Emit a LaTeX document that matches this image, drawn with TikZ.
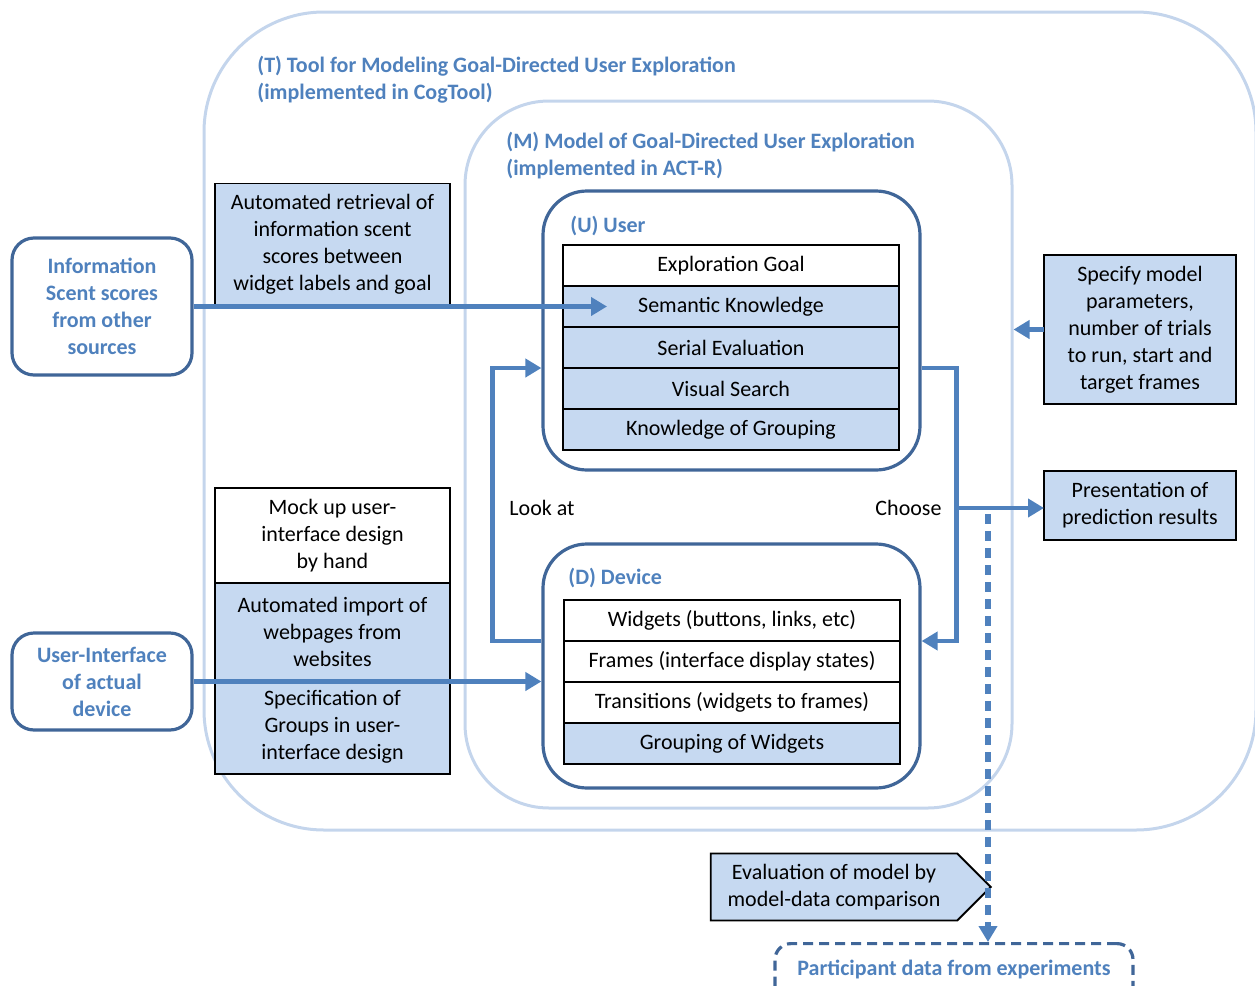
\documentclass[tikz,border=0pt]{standalone}
\usepackage{fontspec}
\setmainfont{Carlito}
\usetikzlibrary{arrows.meta,positioning,shapes.symbols}
\definecolor{paleline}{RGB}{196,213,236}
\definecolor{boxfill}{RGB}{198,217,241}
\definecolor{darkline}{RGB}{64,102,152}
\definecolor{flowblue}{RGB}{79,129,189}

\begin{document}
\begin{tikzpicture}[x=0.5pt,y=-0.5pt,font=\fontsize{11}{13.5}\selectfont,
	region/.style={draw=paleline, line width=1.5pt, inner sep=0pt},
	agent/.style={draw=darkline, line width=1.6pt, rounded corners=22pt, minimum width=188.5pt, inner sep=0pt},
	cell/.style={draw=black, line width=0.9pt, fill=white, minimum width=168pt, minimum height=20.5pt, inner sep=0pt, outer sep=0pt},
	shaded/.style={cell, fill=boxfill},
	sidebox/.style={draw=black, line width=0.9pt, fill=boxfill, align=center, minimum width=117.5pt, inner sep=0pt, outer sep=0pt},
	source/.style={draw=darkline, line width=1.6pt, rounded corners=11pt, text=flowblue, font=\fontsize{11}{13.5}\selectfont\bfseries, align=center, minimum width=90pt, inner sep=0pt},
	title/.style={text=flowblue, font=\fontsize{11}{13.5}\selectfont\bfseries, align=left, inner sep=0pt},
	flow/.style={draw=flowblue, line width=2.4pt, -{Triangle[length=8pt,width=9pt]}}]
	\useasboundingbox (0,0) rectangle (1255,986);
	% nested scopes of the tool and the model
	\node[region, rounded corners=60pt, minimum width=526pt, minimum height=409pt] (tool) at (730,421) {};
	\node[title, anchor=west] (tooltitle) at (257,79.5) {(T) Tool for Modeling Goal-Directed User Exploration\\(implemented in CogTool)};
	\node[region, rounded corners=42pt, minimum width=273.5pt, minimum height=353.5pt] (model) at (738.5,454.5) {};
	\node[title, anchor=west] (modeltitle) at (506,155.5) {(M) Model of Goal-Directed User Exploration\\(implemented in ACT-R)};
	% user
	\node[agent, minimum height=139.5pt] (user) at (731.5,330.5) {};
	\node[title, anchor=west] (usertitle) at (570,226) {(U) User};
	\node[cell] (goal) at (731,265.5) {Exploration Goal};
	\node[shaded, below=0pt of goal] (sem) {Semantic Knowledge};
	\node[shaded, below=0pt of sem] (serial) {Serial Evaluation};
	\node[shaded, below=0pt of serial] (visual) {Visual Search};
	\node[shaded, below=0pt of visual] (know) {Knowledge of Grouping};
	% device
	\node[agent, minimum height=122pt] (device) at (731.5,666) {};
	\node[title, anchor=west] (devicetitle) at (568,578) {(D) Device};
	\node[cell] (wid) at (732,620.5) {Widgets (buttons, links, etc)};
	\node[cell, below=0pt of wid] (frames) {Frames (interface display states)};
	\node[cell, below=0pt of frames] (trans) {Transitions (widgets to frames)};
	\node[shaded, below=0pt of trans] (group) {Grouping of Widgets};
	% tool functions
	\node[sidebox, minimum height=60.5pt] (retrieve) at (332.5,244) {Automated retrieval of\\information scent\\scores between\\widget labels and goal};
	\node[sidebox, fill=white, minimum height=47.5pt] (mock) at (332.5,535.5) {Mock up user-\\interface design\\by hand};
	\node[sidebox, minimum height=48.5pt, below=0pt of mock] (import) {Automated import of\\webpages from\\websites};
	\node[sidebox, minimum height=47pt, below=0pt of import] (spec) {Specification of\\Groups in user-\\interface design};
	\node[source, minimum height=68.5pt] (info) at (102,306.5) {Information\\Scent scores\\from other\\sources};
	\node[source, minimum height=48.5pt] (ui) at (102,681.5) {User-Interface\\of actual\\device};
	\node[sidebox, minimum width=96pt, minimum height=74.5pt] (params) at (1140,329.5) {Specify model\\parameters,\\number of trials\\to run, start and\\target frames};
	\node[sidebox, minimum width=96pt, minimum height=34.5pt] (present) at (1140,505.5) {Presentation of\\prediction results};
	\node[draw=black, line width=0.9pt, fill=boxfill, signal, signal to=east, signal pointer angle=90, align=center, minimum width=140pt, minimum height=33.5pt, inner sep=0pt] (eval) at (834,887) {Evaluation of model by\\model-data comparison};
	\node[draw=darkline, line width=1.6pt, dash pattern=on 5pt off 3pt, rounded corners=8pt, text=flowblue, font=\fontsize{11}{13.5}\selectfont\bfseries, minimum width=179pt, inner sep=0pt, text height=16pt, text depth=22pt, anchor=north] (part) at (954,942) {Participant data from experiments};
	\node (lookat) at (542,508) {Look at};
	\node (choose) at (908.5,508) {Choose};
	% connectors
	\coordinate (semtip) at ([xshift=22pt]sem.west);
	\coordinate (split) at (955,508);
	\coordinate (dashtop) at (988,514);
	\draw[flow] (info.east) -- (info.east -| semtip);
	\draw[flow] (ui.east) -- (ui.east -| device.west);
	\draw[flow] (device.west |- wid.south) -- ++(-49,0) |- (user.west |- serial.south);
	\draw[flow] (user.east |- serial.south) -- ++(35,0) |- (device.east |- wid.south);
	\draw[flow] (split) -- (split -| present.west);
	\draw[flow] (params.west) -- (params.west -| model.east);
	\draw[flow, line width=2.8pt, dash pattern=on 5pt off 3.5pt] (dashtop) -- (dashtop |- part.north);
\end{tikzpicture}
\end{document}
